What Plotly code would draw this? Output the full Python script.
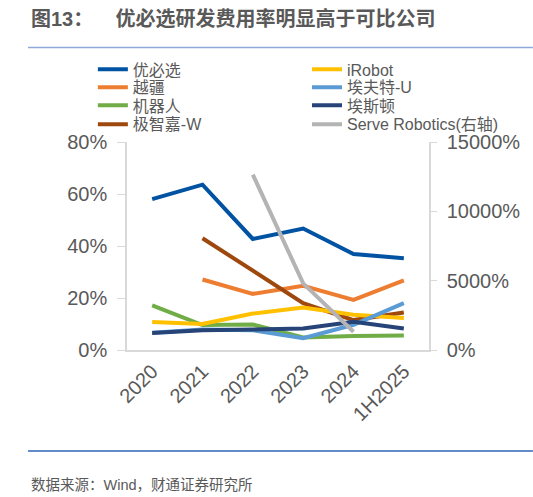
import plotly.graph_objects as go

# 研发费用率数据（%）
years = ["2020", "2021", "2022", "2023", "2024", "1H2025"]
ubtech = [58.0, 63.6, 42.7, 46.7, 36.9, 35.3]
irobot = [10.8, 10.0, 14.0, 16.3, 13.6, 12.3]
dobot = [None, 27.1, 21.6, 24.7, 19.3, 26.8]
efort = [6.6, 7.9, 7.6, 4.5, 9.7, 18.0]
siasun = [17.2, 9.6, 9.8, 4.8, 5.4, 5.6]
estun = [6.5, 7.6, 7.9, 8.3, 10.9, 8.3]
geekplus = [None, 43.0, 30.7, 18.0, 11.5, 14.4]
serve = [None, None, 12650, 4800, 1320, None]  # 右轴

left_ticks = [0, 20, 40, 60, 80]
right_ticks = [0, 5000, 10000, 15000]

GRAY = "#595959"
FONT = "Liberation Sans, Noto Sans CJK SC"

# 图例两列四行，每个系列单独一个图例框以便控制行距
series = [
    ("优必选", ubtech, "#0052A3", "y", 0, 0),
    ("越疆", dobot, "#ED7D31", "y", 0, 1),
    ("机器人", siasun, "#70AD47", "y", 0, 2),
    ("极智嘉-W", geekplus, "#9E480E", "y", 0, 3),
    ("iRobot", irobot, "#FFC000", "y", 1, 0),
    ("埃夫特-U", efort, "#5B9BD5", "y", 1, 1),
    ("埃斯顿", estun, "#264478", "y", 1, 2),
    ("Serve Robotics(右轴)", serve, "#B4B4B4", "y2", 1, 3),
]
col_x = [-0.113, 0.596]
row_y = [1.349, 1.263, 1.176, 1.085]

fig = go.Figure()
legends = {}
for i, (name, vals, color, yax, col, row) in enumerate(series):
    key = "legend" if i == 0 else f"legend{i + 1}"
    fig.add_trace(go.Scatter(x=years, y=vals, name=name, mode="lines",
                             line=dict(color=color, width=4), yaxis=yax,
                             legend=key))
    legends[key] = dict(x=col_x[col], y=row_y[row], xanchor="left",
                        yanchor="middle", bgcolor="rgba(0,0,0,0)",
                        font=dict(size=16, color=GRAY, family=FONT),
                        itemwidth=30)

# 绘图顺序：Serve Robotics 在下层之外保持原顺序即可
fig.update_layout(
    width=533, height=497,
    margin=dict(l=127, r=104, t=142, b=147),
    paper_bgcolor="white", plot_bgcolor="white",
    font=dict(family=FONT, color=GRAY),
    showlegend=True,
    **legends,
    xaxis=dict(type="category", range=[-0.5, 5.5], tickangle=-45,
               tickfont=dict(size=20, color=GRAY), showline=True,
               linecolor="#D9D9D9", linewidth=1.5, showgrid=False, ticks=""),
    yaxis=dict(range=[0, 80], tickvals=left_ticks,
               ticktext=[f"{v}%" for v in left_ticks],
               tickfont=dict(size=20, color=GRAY), showline=True,
               linecolor="#D9D9D9", linewidth=1.5, showgrid=False,
               ticks="outside", ticklen=8, tickcolor="#D9D9D9", zeroline=False,
               ticklabelstandoff=6),
    yaxis2=dict(range=[0, 15000], tickvals=right_ticks,
                ticktext=[f"{v}%" for v in right_ticks],
                overlaying="y", side="right",
                tickfont=dict(size=20, color=GRAY), showline=True,
                linecolor="#D9D9D9", linewidth=1.5, showgrid=False,
                ticks="outside", ticklen=6, tickcolor="#D9D9D9", zeroline=False,
                ticklabelstandoff=6),
)

# 标题与来源
fig.add_annotation(text="<b>图13：    优必选研发费用率明显高于可比公司</b>",
                   xref="paper", yref="paper", x=-0.325, y=1.594,
                   xanchor="left", yanchor="middle", showarrow=False,
                   font=dict(size=20, color=GRAY, family=FONT))
fig.add_annotation(text="数据来源：Wind，财通证券研究所",
                   xref="paper", yref="paper", x=-0.325, y=-0.648,
                   xanchor="left", yanchor="middle", showarrow=False,
                   font=dict(size=14.5, color=GRAY, family=FONT))

fig.add_shape(type="line", xref="paper", yref="paper",
              x0=-0.328, x1=1.344, y0=1.4546, y1=1.4546,
              line=dict(color="#8EAADB", width=1.5))
fig.add_shape(type="line", xref="paper", yref="paper",
              x0=-0.328, x1=1.344, y0=-0.485, y1=-0.485,
              line=dict(color="#2E64B4", width=1.5))

# 去掉页面默认边距
fig.write_html("out.html", config={"displayModeBar": False},
               post_script="document.body.style.margin='0';")
